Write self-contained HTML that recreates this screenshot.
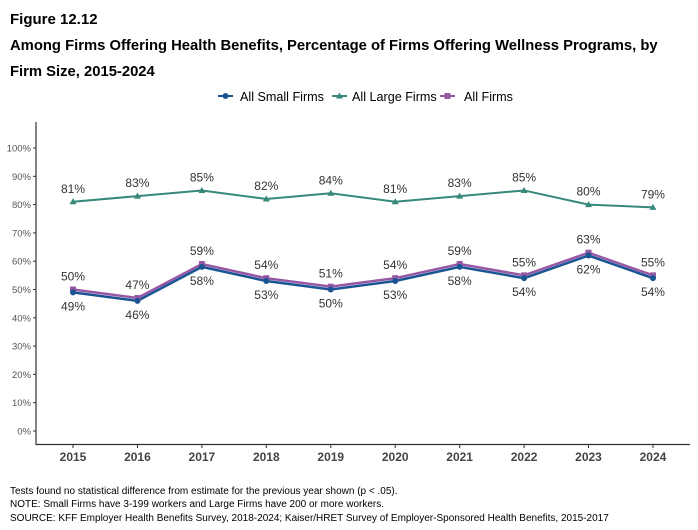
<!DOCTYPE html>
<html><head><meta charset="utf-8"><style>
body{margin:0;background:#fff;width:698px;height:525px;overflow:hidden;font-family:"Liberation Sans",Arial,sans-serif}
</style></head><body>
<svg width="698" height="525" xmlns="http://www.w3.org/2000/svg" font-family="Liberation Sans, Arial, sans-serif">
<text x="10" y="24" font-size="15" font-weight="bold" fill="#000">Figure 12.12</text>
<text x="10" y="50" font-size="14.8" font-weight="bold" fill="#000">Among Firms Offering Health Benefits, Percentage of Firms Offering Wellness Programs, by</text>
<text x="10" y="76" font-size="14.8" font-weight="bold" fill="#000">Firm Size, 2015-2024</text>
<g font-size="12.6" fill="#000">
<line x1="218" y1="96" x2="233" y2="96" stroke="#1a5593" stroke-width="2"/><circle cx="225.5" cy="96" r="3" fill="#1a5593"/>
<text x="240" y="101">All Small Firms</text>
<line x1="332" y1="96" x2="347" y2="96" stroke="#35887a" stroke-width="2"/><polygon points="339.5,92.5 343,98.5 336,98.5" fill="#35887a"/>
<text x="352" y="101">All Large Firms</text>
<line x1="440" y1="96" x2="455" y2="96" stroke="#9657a5" stroke-width="2"/><rect x="444.5" y="93" width="6" height="6" fill="#9657a5"/>
<text x="464" y="101">All Firms</text>
</g>
<line x1="36" y1="122" x2="36" y2="444.5" stroke="#333" stroke-width="1.2"/>
<line x1="35.5" y1="444.5" x2="690" y2="444.5" stroke="#333" stroke-width="1.2"/>
<g font-size="9.5" fill="#555" text-anchor="end" id="yt"></g>
<g font-size="12" font-weight="bold" fill="#444" text-anchor="middle" id="xt"></g>
<g id="series"></g>
<g font-size="10" fill="#000">
<text x="10" y="494">Tests found no statistical difference from estimate for the previous year shown (p &lt; .05).</text>
<text x="10" y="507">NOTE: Small Firms have 3-199 workers and Large Firms have 200 or more workers.</text>
<text x="10" y="521">SOURCE: KFF Employer Health Benefits Survey, 2018-2024; Kaiser/HRET Survey of Employer-Sponsored Health Benefits, 2015-2017</text>
</g>
</svg>
<script>
const NS="http://www.w3.org/2000/svg";
function el(p,t,a,txt){const e=document.createElementNS(NS,t);for(const k in a)e.setAttribute(k,a[k]);if(txt!=null)e.textContent=txt;p.appendChild(e);return e;}
const Y=v=>431-2.83*v, X=i=>73+i*64.44;
const yt=document.getElementById('yt');
for(let v=0;v<=100;v+=10){el(yt,'text',{x:31,y:Y(v)+3.5},v+'%');el(yt,'line',{x1:33,x2:36,y1:Y(v),y2:Y(v),stroke:'#333'});}
const xt=document.getElementById('xt');
for(let i=0;i<10;i++){el(xt,'text',{x:X(i),y:461},2015+i);el(xt,'line',{x1:X(i),x2:X(i),y1:444,y2:448,stroke:'#333'});}
const s=document.getElementById('series');
const small=[49,46,58,53,50,53,58,54,62,54],large=[81,83,85,82,84,81,83,85,80,79],all=[50,47,59,54,51,54,59,55,63,55];
function line(d,c,w){el(s,'polyline',{points:d.map((v,i)=>X(i)+','+Y(v)).join(' '),fill:'none',stroke:c,'stroke-width':w});}
line(large,'#35887a',2);line(all,'#9657a5',2.5);line(small,'#1a5593',2.5);
large.forEach((v,i)=>{const x=X(i),y=Y(v);el(s,'polygon',{points:`${x},${y-3.5} ${x+3.5},${y+2.5} ${x-3.5},${y+2.5}`,fill:'#35887a'});el(s,'text',{x:x,y:y-9,'font-size':12,fill:'#333','text-anchor':'middle'},v+'%');});
all.forEach((v,i)=>{const x=X(i),y=Y(v);el(s,'rect',{x:x-3,y:y-3,width:6,height:6,fill:'#9657a5'});el(s,'text',{x:x,y:y-9,'font-size':12,fill:'#333','text-anchor':'middle'},v+'%');});
small.forEach((v,i)=>{const x=X(i),y=Y(v);el(s,'circle',{cx:x,cy:y,r:3,fill:'#1a5593'});el(s,'text',{x:x,y:y+18,'font-size':12,fill:'#333','text-anchor':'middle'},v+'%');});
</script>
</body></html>
